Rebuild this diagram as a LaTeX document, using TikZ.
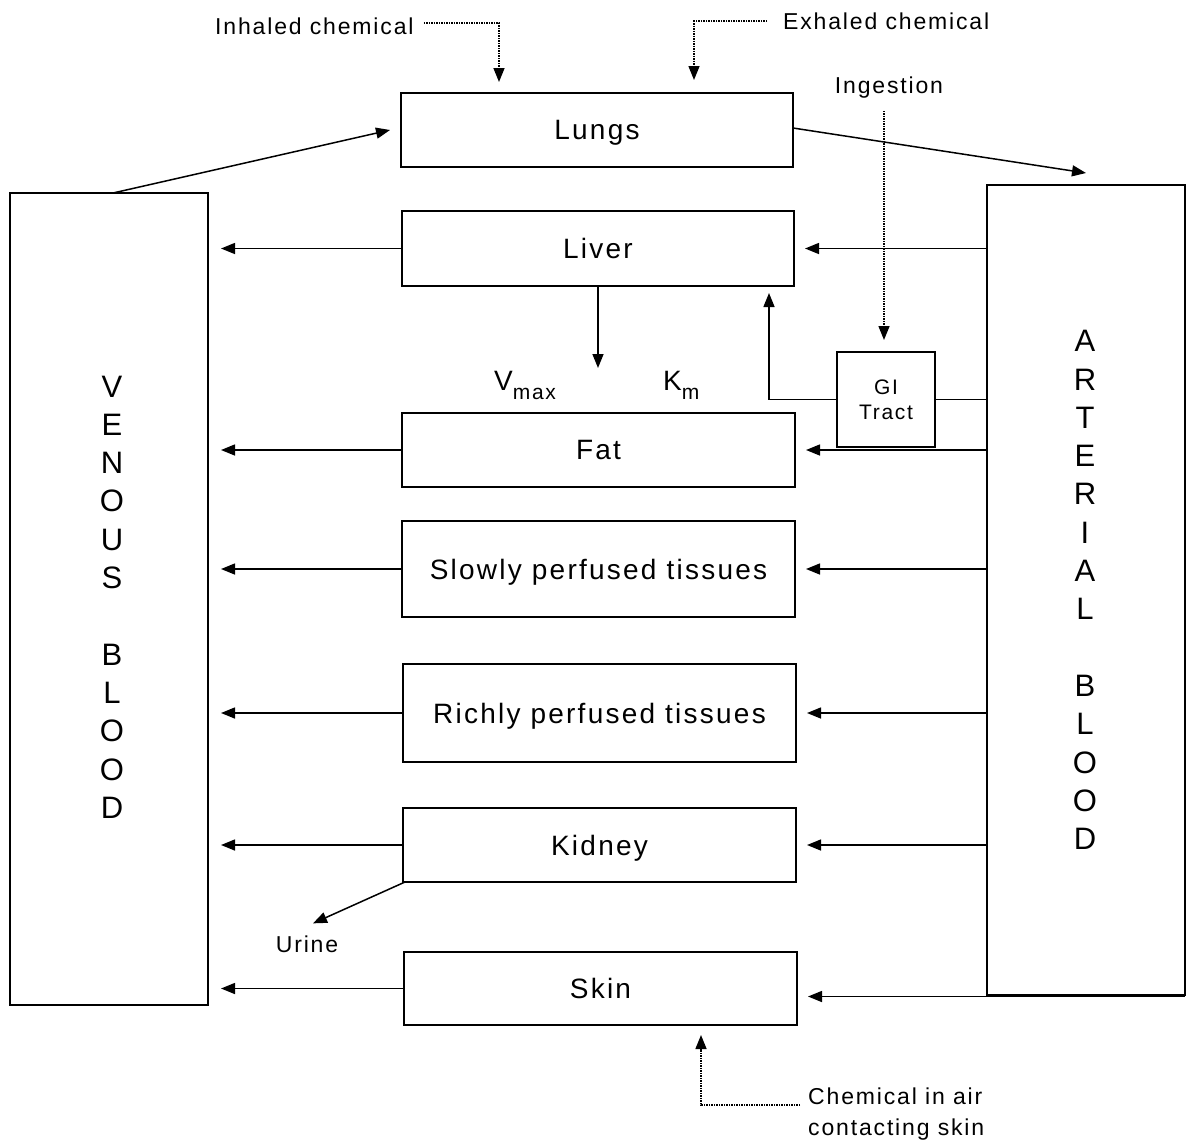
\documentclass[tikz,border=0pt]{standalone}
\usepackage{fontspec}
\setmainfont{Liberation Sans}[LetterSpace=8]
\usetikzlibrary{arrows.meta}
\begin{document}
\begin{tikzpicture}[x=1pt,y=-1pt,
  box/.style={draw, line width=2.4pt, inner sep=0pt, outer sep=0pt, text depth=0pt, font=\fontsize{28}{30}\selectfont},
  arr/.style={-{Triangle[length=14pt,width=11pt]}, line width=1.5pt},
  dotarr/.style={densely dotted, line width=1.5pt, -{Triangle[length=14pt,width=11pt]}},
  plain/.style={line width=1.5pt},
  lbl/.style={font=\fontsize{23}{31}\selectfont, inner sep=0pt},
  vert/.style={align=center, inner sep=0pt, font=\fontsize{31}{38.3}\selectfont}]
\useasboundingbox (0,0) rectangle (1187,1144);

% boxes
\node[box, minimum width=392, minimum height=74] (lungs)  at (597,130)   {Lungs};
\node[box, minimum width=392, minimum height=75] (liver)  at (598,248.5) {Liver};
\node[box, minimum width=393, minimum height=74] (fat)    at (598.5,450) {Fat};
\node[box, minimum width=393, minimum height=96] (slow)   at (598.5,569) {Slowly perfused tissues};
\node[box, minimum width=393, minimum height=98] (rich)   at (599.5,713) {Richly perfused tissues};
\node[box, minimum width=393, minimum height=74] (kidney) at (599.5,845) {Kidney};
\node[box, minimum width=393, minimum height=73] (skin)   at (600.5,988.5) {Skin};
\node[draw, line width=1.5pt, inner sep=0pt, outer sep=0pt, minimum width=98, minimum height=95,
      align=center, font=\fontsize{21}{25}\selectfont] (gi) at (886,399.5) {GI\\Tract};
\node[draw, line width=2.4pt, inner sep=0pt, outer sep=0pt, minimum width=198, minimum height=812] (venous) at (109,599) {};
\node[draw, line width=2.4pt, inner sep=0pt, outer sep=0pt, minimum width=198, minimum height=810] (arterial) at (1086,590) {};

\node[vert] (vtext) at (112,597) {V\\E\\N\\O\\U\\S\\\mbox{}\\B\\L\\O\\O\\D};
\node[vert] (atext) at (1085,590) {A\\R\\T\\E\\R\\I\\A\\L\\\mbox{}\\B\\L\\O\\O\\D};

% labels
\node[lbl, anchor=west] (inh) at (215,26) {Inhaled chemical};
\node[lbl, anchor=west] (exh) at (783,21) {Exhaled chemical};
\node[lbl] (ing) at (889,88) {Ingestion};
\node[lbl] (urine) at (307,944) {Urine};
\node[lbl, anchor=west, align=left] (air) at (808,1114) {Chemical in air\\contacting skin};
\node[font=\fontsize{28}{30}\selectfont, inner sep=0pt, anchor=base west] (vmax) at (494,390) {V\raisebox{-9pt}{\fontsize{21}{21}\selectfont max}};
\node[font=\fontsize{28}{30}\selectfont, inner sep=0pt, anchor=base west] (km) at (663,390) {K\raisebox{-9pt}{\fontsize{21}{21}\selectfont m}};

\coordinate (inhT) at (499,82);
\coordinate (exhT) at (694,80);
\coordinate (airT) at (701,1035);
\coordinate (vk) at (598,368);
\coordinate (gup) at (769,293);

% lungs circulation
\draw[arr] ([xshift=4pt]venous.north) -- ([xshift=-11pt]lungs.west);
\draw[arr] ([yshift=2pt]lungs.east) -- ([yshift=12pt]arterial.north);

% organs to venous
\foreach \o in {liver,fat,slow,rich,kidney,skin}
  \draw[arr, shorten >=13pt] (\o.west) -- (\o.west -| venous.east);
% arterial to organs
\foreach \o in {liver,fat,slow,rich,kidney}
  \draw[arr, shorten >=11pt] (\o.east -| arterial.west) -- (\o.east);
\draw[arr, shorten >=11pt] ([yshift=-8pt]skin.east -| arterial.east) -- ([yshift=-8pt]skin.east);

% liver metabolism
\draw[arr] (liver.south) -- (vk);
% GI tract
\draw[arr] (gi.west) -| (gup);
\draw[plain] (gi.east) -- (gi.east -| arterial.west);
\draw[dotarr, shorten <=12pt, shorten >=12pt] ([xshift=-5pt]ing.south) -- ([xshift=-2pt]gi.north);

% urine
\draw[arr] ([xshift=2pt]kidney.south west) -- ([xshift=6pt,yshift=12pt]urine.north);

% exposures
\draw[dotarr, shorten <=10pt] ([yshift=3pt]inh.east) -| (inhT);
\draw[dotarr, shorten <=16pt] (exh.west) -| (exhT);
\draw[dotarr, shorten <=8pt] ([yshift=9pt]air.west) -| (airT);
\end{tikzpicture}
\end{document}
